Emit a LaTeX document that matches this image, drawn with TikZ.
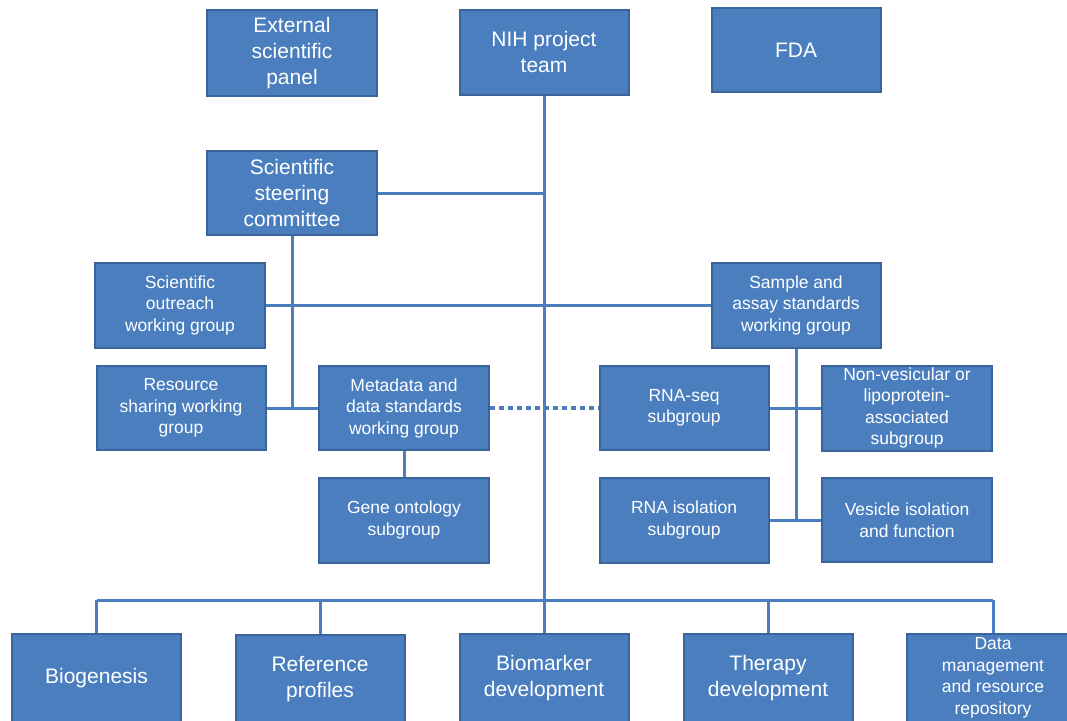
\documentclass[tikz,border=0pt]{standalone}
\usepackage{fontspec}
\setmainfont{Liberation Sans}
\definecolor{boxfill}{HTML}{4A7EBF}
\definecolor{boxline}{HTML}{3B649A}
\definecolor{conn}{HTML}{4A7EBF}
\begin{document}
\begin{tikzpicture}[x=1pt,y=-1pt,
  box/.style={draw=boxline, line width=2pt, fill=boxfill, text=white, align=center, inner sep=0pt},
  big/.style={box, font=\fontsize{21}{26}\selectfont},
  small/.style={box, font=\fontsize{17.5}{21.5}\selectfont},
  conn/.style={draw=conn, line width=3pt},
  dotconn/.style={draw=conn, line width=3.5pt, dash pattern=on 5pt off 4pt}
]
\useasboundingbox[fill=white] (0,0) rectangle (1067,720);
% top row
\node[big, minimum width=170pt, minimum height=86pt] (ext) at (292,53) {External\\scientific\\panel};
\node[big, minimum width=169pt, minimum height=85pt] (nih) at (544,52) {NIH project\\team};
\node[big, minimum width=169pt, minimum height=84pt] (fda) at (796,50) {FDA};
\node[big, minimum width=170pt, minimum height=84pt] (ssc) at (292,193) {Scientific\\steering\\committee};
% working groups
\node[small, minimum width=170pt, minimum height=85pt] (sow) at (180,305) {Scientific\\outreach\\working group};
\node[small, minimum width=169pt, minimum height=85pt] (sas) at (796,305) {Sample and\\assay standards\\working group};
\node[small, minimum width=169pt, minimum height=84pt] (rsw) at (181,408) {Resource\\sharing working\\group};
\node[small, minimum width=170pt, minimum height=84pt] (meta) at (404,408) {Metadata and\\data standards\\working group};
\node[small, minimum width=169pt, minimum height=84pt] (rnaseq) at (684,408) {RNA-seq\\subgroup};
\node[small, minimum width=170pt, minimum height=85pt] (nonves) at (907,408) {Non-vesicular or\\lipoprotein-\\associated\\subgroup};
\node[small, minimum width=170pt, minimum height=85pt] (gene) at (404,520) {Gene ontology\\subgroup};
\node[small, minimum width=169pt, minimum height=85pt] (rnaiso) at (684,520) {RNA isolation\\subgroup};
\node[small, minimum width=170pt, minimum height=84pt] (ves) at (907,520) {Vesicle isolation\\and function};
% bottom row
\node[big, minimum width=169pt, minimum height=88pt] (bio) at (96.5,678) {Biogenesis};
\node[big, minimum width=169pt, minimum height=88pt] (ref) at (320,679) {Reference\\profiles};
\node[big, minimum width=169pt, minimum height=88pt] (biom) at (544,678) {Biomarker\\development};
\node[big, minimum width=169pt, minimum height=88pt] (ther) at (768,678) {Therapy\\development};
\node[small, minimum width=172pt, minimum height=88pt] (data) at (993,678) {Data\\management\\and resource\\repository};
% bus
\coordinate (busy) at (0,600);
% connectors
\draw[conn] (nih.south) -- (nih.south |- busy);
\draw[conn] (ssc.east) -- (ssc.east -| nih.south);
\draw[conn] (ssc.south) -- (ssc.south |- meta.west);
\draw[conn] (sow.east) -- (sas.west);
\draw[conn] (rsw.east) -- (meta.west);
\draw[dotconn] (meta.east) -- (rnaseq.west);
\draw[conn] (meta.south) -- (gene.north);
\draw[conn] (sas.south) -- (sas.south |- ves.west);
\draw[conn] (rnaseq.east) -- (nonves.west);
\draw[conn] (rnaiso.east) -- (ves.west);
\draw[conn] (bio.north |- busy) -- (data.north |- busy);
\foreach \n in {bio,ref,biom,ther,data}{
  \draw[conn] (\n.north |- busy) -- (\n.north);
}
\end{tikzpicture}
\end{document}
